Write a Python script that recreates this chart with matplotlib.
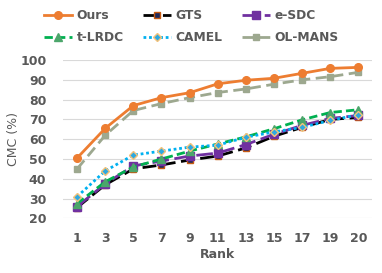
import numpy as np
import matplotlib.pyplot as plt

ranks = ["1", "3", "5", "7", "9", "11", "13", "15", "17", "19", "20"]
ours = [50.5, 65.5, 77, 81, 83.5, 88, 89.8, 90.8, 93.3, 95.8, 96.3]
gts = [25.5, 37, 45, 47, 49.5, 51.5, 55.6, 61.5, 66, 70, 71]
esdc = [26, 37.5, 46.5, 49, 51.5, 53, 57.3, 62.5, 67, 70.5, 72]
tlrdc = [27.5, 38.5, 46, 50, 54, 57.6, 61.2, 65.3, 69.8, 73.5, 74.9]
camel = [31, 44, 52, 54, 56, 57, 61, 63.7, 66, 69.5, 72.4]
olmans = [45, 62, 74.5, 78, 81, 83.6, 85.4, 87.8, 90, 91.6, 93.8]

fig = plt.figure(figsize=(3.82, 2.73), dpi=100)
ax = fig.add_axes([0.165, 0.2, 0.81, 0.58])
x = np.arange(len(ranks))

h_ours, = ax.plot(x, ours, color="#ED7D31", lw=2, marker="o", ms=5.5, label="Ours", zorder=5)
h_gts, = ax.plot(x, gts, color="black", lw=2, ls=(0, (5, 2)), marker="s", ms=5,
                 mfc="#1F2A5C", mec="#C55A11", label="GTS", zorder=3)
h_esdc, = ax.plot(x, esdc, color="#7030A0", lw=2, ls=(0, (6, 2)), marker="s", ms=5.5,
                  mfc="#7030A0", mec="#7030A0", label="e-SDC", zorder=3)
h_tlrdc, = ax.plot(x, tlrdc, color="#00B050", lw=2, ls=(0, (3, 1.5)), marker="^", ms=5.5,
                   mfc="#4CA66B", mec="#4CA66B", label="t-LRDC", zorder=4)
h_camel, = ax.plot(x, camel, color="#00B0F0", lw=2, ls=(0, (1, 1)), marker="D", ms=4,
                   mfc="#2EA8E0", mec="#F4C27A", label="CAMEL", zorder=4)
h_olmans, = ax.plot(x, olmans, color="#9DA88F", lw=2, ls=(0, (4, 2)), marker="s", ms=5,
                    mfc="#9DA88F", mec="#9DA88F", label="OL-MANS", zorder=4)

ax.set_ylim(20, 100)
ax.set_yticks(range(20, 101, 10))
ax.set_xlim(-0.5, len(ranks) - 0.5)
ax.set_xticks(x)
ax.set_xticklabels(ranks)
ax.grid(axis="y", color="#D9D9D9", lw=0.8)
ax.set_axisbelow(True)
for s in ax.spines.values():
    s.set_visible(False)
ax.tick_params(length=0, labelsize=9, labelcolor="#595959")
ax.tick_params(axis="x", pad=10)
ax.tick_params(axis="y", pad=12)
for lab in ax.get_xticklabels() + ax.get_yticklabels():
    lab.set_fontweight("bold")
ax.set_xlabel("Rank", fontsize=9, fontweight="bold", color="#595959", labelpad=2)
ax.set_ylabel("CMC (%)", fontsize=9, color="#595959", labelpad=0)

# column-major fill so rows read Ours/GTS/e-SDC and t-LRDC/CAMEL/OL-MANS
handles = [h_ours, h_tlrdc, h_gts, h_camel, h_esdc, h_olmans]
fig.legend(handles=handles, labels=[h.get_label() for h in handles],
           loc="upper left", bbox_to_anchor=(44 / 382, 1 - 9 / 273), ncol=3,
           frameon=False, borderpad=0, borderaxespad=0,
           prop={"size": 8.8, "weight": "bold"}, labelcolor="#595959",
           handlelength=2.3, columnspacing=1.6, handletextpad=0.35,
           labelspacing=0.75)

fig.savefig("out.png", dpi=100)
